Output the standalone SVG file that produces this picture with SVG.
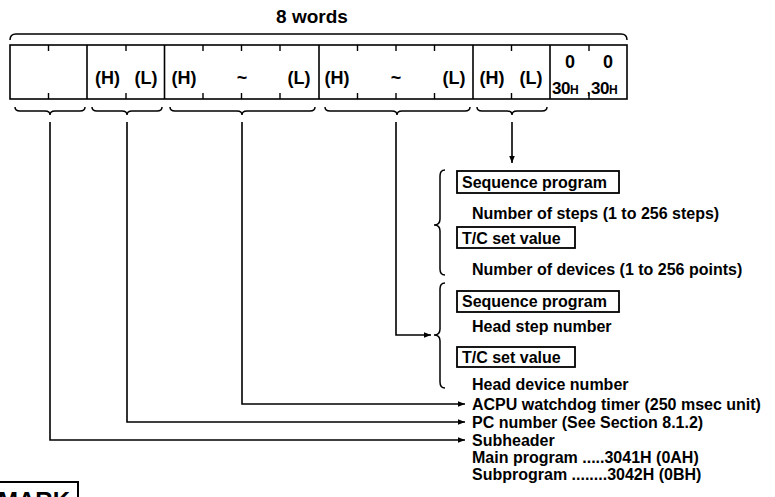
<svg xmlns="http://www.w3.org/2000/svg" width="775" height="497" viewBox="0 0 775 497">
<style>
text{font-family:"Liberation Sans",Arial,sans-serif;font-weight:bold;fill:#000}
.cell{font-size:18px;text-anchor:middle}
.lbl{font-size:16px}
.ln{fill:none;stroke:#000;stroke-width:1.6}
.box{fill:#fff;stroke:#000;stroke-width:1.8}
.br{fill:none;stroke:#000;stroke-width:1.5}
</style>
<defs>
<marker id="ah" viewBox="0 0 10 10" refX="10" refY="5" markerWidth="7" markerHeight="7" markerUnits="userSpaceOnUse" orient="auto">
<path d="M0,1 L10,5 L0,9 z" fill="#000"/>
</marker>
</defs>
<rect width="775" height="497" fill="#fff"/>

<g id="title">
<text x="312" y="23" font-size="19" text-anchor="middle">8 words</text>
<path class="br" d="M10,40 Q10,34 16,34 H621 Q627,34 627,40"/>
</g>

<g id="frame">
<rect x="10" y="45" width="617" height="54" fill="none" stroke="#000" stroke-width="1.6"/>
<g stroke="#000" stroke-width="1.6">
<line x1="87" y1="45" x2="87" y2="99"/>
<line x1="164.5" y1="45" x2="164.5" y2="99"/>
<line x1="319" y1="45" x2="319" y2="99"/>
<line x1="473" y1="45" x2="473" y2="99"/>
<line x1="550" y1="45" x2="550" y2="99"/>
</g>
<path stroke="#000" stroke-width="1.4" d="M48.5,45v6M48.5,99v-6M126,45v6M126,99v-6M203,45v6M203,99v-6M241.5,45v6M241.5,99v-6M280,45v6M280,99v-6M357.5,45v6M357.5,99v-6M396,45v6M396,99v-6M434.5,45v6M434.5,99v-6M511.5,45v6M511.5,99v-6M589,45v6M589,99v-6"/>
</g>

<g id="subheader-cell"><path class="br" d="M15,107 Q15,111 20,111 H45 Q50,111 50,115 Q50,111 55,111 H80 Q85,111 85,107"/></g>

<g id="pc-cell">
<text class="cell" x="107.5" y="84">(H)</text>
<text class="cell" x="146" y="84">(L)</text>
<path class="br" d="M92,107 Q92,111 97,111 H122 Q127,111 127,115 Q127,111 132,111 H157 Q162,111 162,107"/>
</g>

<g id="watchdog-cell">
<text class="cell" x="184" y="84">(H)</text>
<text class="cell" x="242" y="84">~</text>
<text class="cell" x="299" y="84">(L)</text>
<path class="br" d="M170,107 Q170,111 175,111 H237 Q242,111 242,115 Q242,111 247,111 H310 Q315,111 315,107"/>
</g>

<g id="head-cell">
<text class="cell" x="337" y="84">(H)</text>
<text class="cell" x="396" y="84">~</text>
<text class="cell" x="454" y="84">(L)</text>
<path class="br" d="M325,107 Q325,111 330,111 H392 Q397,111 397,115 Q397,111 402,111 H465 Q470,111 470,107"/>
</g>

<g id="count-cell">
<text class="cell" x="492" y="84">(H)</text>
<text class="cell" x="531" y="84">(L)</text>
<path class="br" d="M477,107 Q477,111 482,111 H507 Q512,111 512,115 Q512,111 517,111 H542 Q547,111 547,107"/>
</g>

<g id="fixed-cell">
<text class="cell" x="570" y="68" font-size="17">0</text>
<text class="cell" x="608" y="68" font-size="17">0</text>
<text x="552" y="94" font-size="17" letter-spacing="-0.5">30<tspan font-size="12">H</tspan></text>
<text x="591" y="94" font-size="17" letter-spacing="-0.5">30<tspan font-size="12">H</tspan></text>
<text x="587" y="94" font-size="12">,</text>
</g>

<g id="connectors">
<path class="ln" d="M512,122 V163" marker-end="url(#ah)"/>
<path class="ln" d="M396,122 V335 H431" marker-end="url(#ah)"/>
<path class="ln" d="M242,122 V404 H465" marker-end="url(#ah)"/>
<path class="ln" d="M127,122 V422 H465" marker-end="url(#ah)"/>
<path class="ln" d="M50,122 V440 H465" marker-end="url(#ah)"/>
</g>

<g id="count-desc">
<path class="br" d="M445,170 Q440,170 440,176 V219 Q440,225 434,225 Q440,225 440,231 V269 Q440,275 445,275"/>
<rect class="box" x="457" y="171" width="162" height="22"/>
<text class="lbl" x="462" y="188">Sequence program</text>
<text class="lbl" x="472" y="219">Number of steps (1 to 256 steps)</text>
<rect class="box" x="457" y="227" width="118" height="21"/>
<text class="lbl" x="462" y="244">T/C set value</text>
<text class="lbl" x="472" y="275">Number of devices (1 to 256 points)</text>
</g>

<g id="head-desc">
<path class="br" d="M445,283 Q440,283 440,289 V329 Q440,335 434,335 Q440,335 440,341 V382 Q440,388 445,388"/>
<rect class="box" x="457" y="291" width="162" height="21"/>
<text class="lbl" x="462" y="307">Sequence program</text>
<text class="lbl" x="472" y="332">Head step number</text>
<rect class="box" x="457" y="347" width="118" height="20"/>
<text class="lbl" x="462" y="363">T/C set value</text>
<text class="lbl" x="472" y="390">Head device number</text>
</g>

<g id="watchdog-desc"><text class="lbl" x="472" y="410">ACPU watchdog timer (250 msec unit)</text></g>
<g id="pc-desc"><text class="lbl" x="472" y="428">PC number (See Section 8.1.2)</text></g>
<g id="subheader-desc">
<text class="lbl" x="472" y="446">Subheader</text>
<text class="lbl" x="472" y="463">Main program .....3041H (0AH)</text>
<text class="lbl" x="472" y="480">Subprogram ........3042H (0BH)</text>
</g>

<g id="remark">
<rect x="-5" y="482" width="83" height="40" fill="#fff" stroke="#000" stroke-width="2"/>
<text x="-2" y="509" font-size="24">MARK</text>
</g>
</svg>
